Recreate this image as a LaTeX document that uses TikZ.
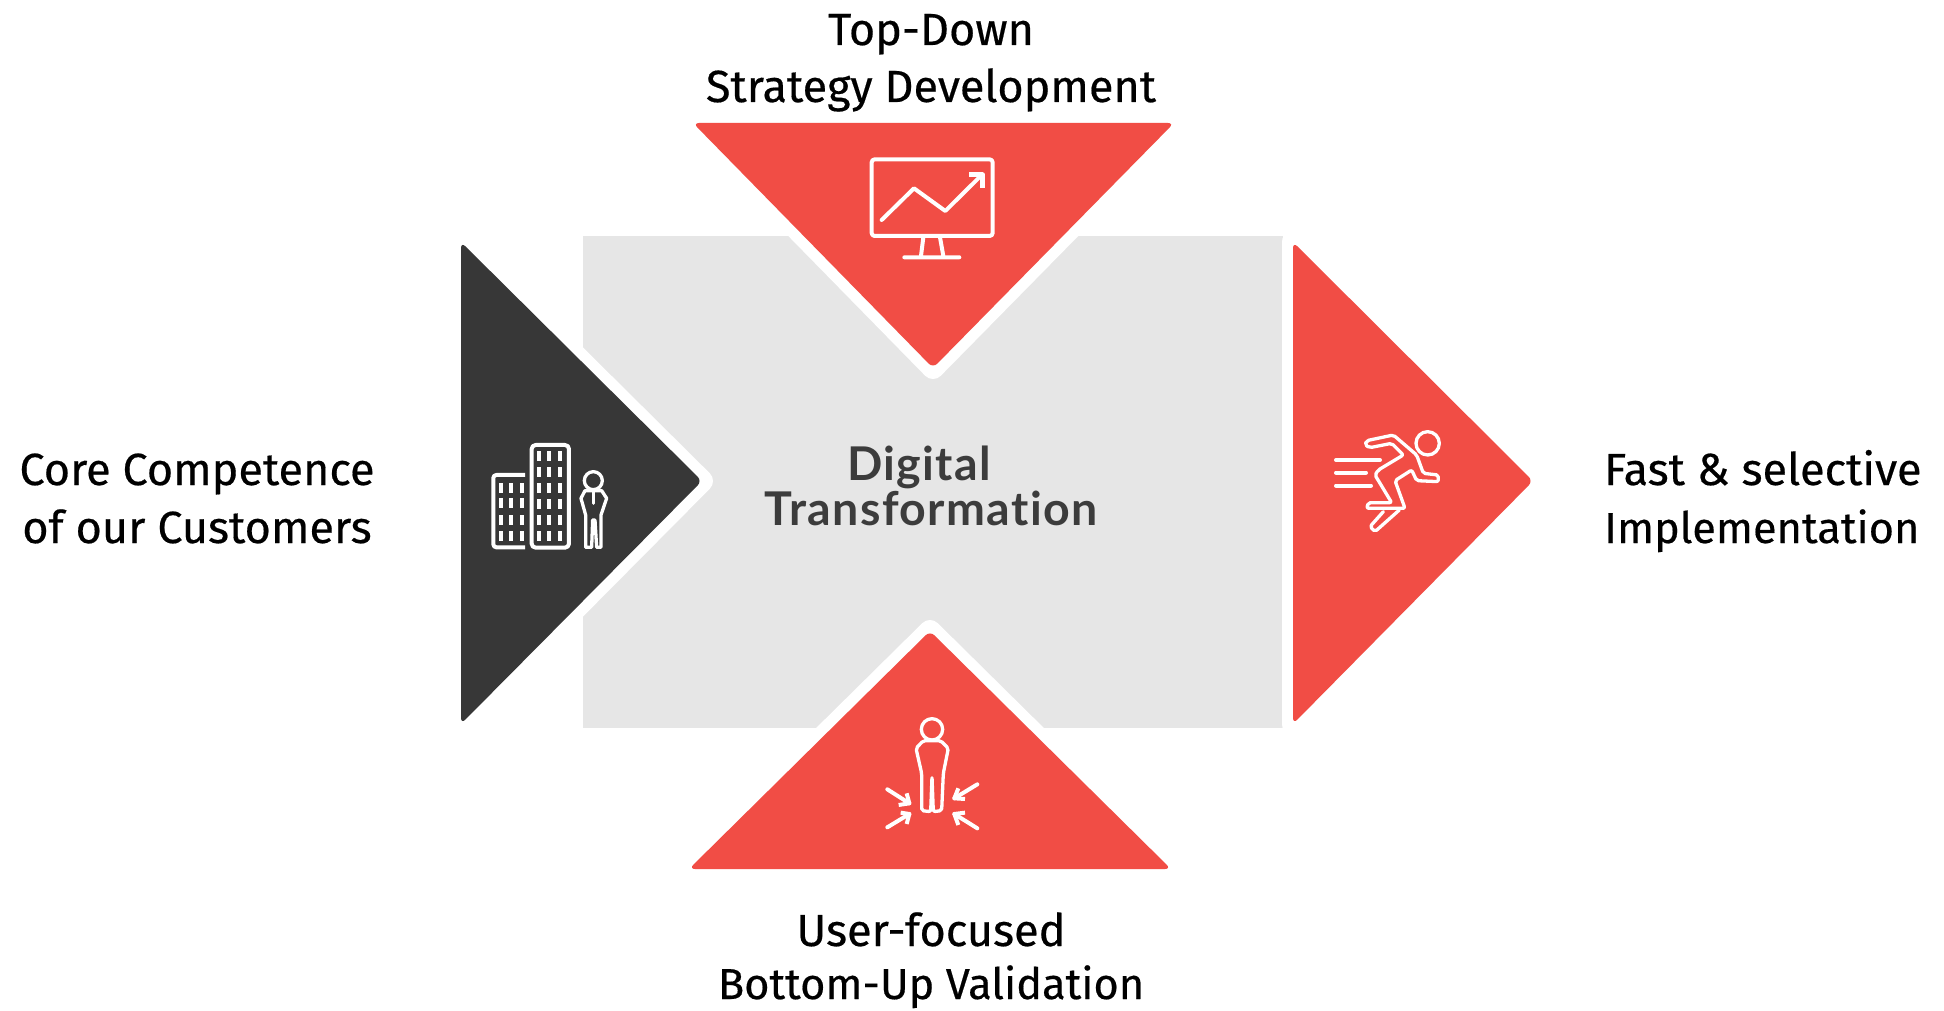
\documentclass[tikz,border=0pt]{standalone}
\usepackage{fontspec}
\setmainfont[FakeBold=0.4]{Fira Sans}
\newfontfamily\boldlabel[LetterSpace=3,Ligatures=NoCommon]{Lato}
\definecolor{redtri}{HTML}{F14D45}
\definecolor{darktri}{HTML}{373737}
\definecolor{panel}{HTML}{E6E6E6}
\definecolor{inktext}{HTML}{3C3C3C}
\tikzset{
  halo/.style={draw=white,line width=22pt,line join=round,fill=white},
  tri/.style={rounded corners=6pt},
  iconline/.style={draw=white,line width=4pt,line join=round,line cap=round},
  iconthin/.style={draw=white,line width=3.3pt,line join=round,line cap=round},
  label/.style={font=\fontsize{45}{52}\selectfont,text=black,inner sep=0pt,anchor=base},
  labelsmall/.style={label,font=\fontsize{43.3}{52}\selectfont},
  centertitle/.style={font=\boldlabel\bfseries\fontsize{46.5}{52}\selectfont,text=inktext,inner sep=0pt,anchor=base},
  zoomed/.style={x=0.3333pt,y=-0.3333pt,shift={(#1)}}
}
\begin{document}
\begin{tikzpicture}[x=1pt,y=-1pt]
\useasboundingbox (0,0) rectangle (1944,1011);
\fill[panel] (583,236) rectangle (1283,728);
% halos
\draw[halo] (693,123) -- (1174,123) -- (933,368) -- cycle;
\draw[halo] (461,242) -- (702,481) -- (461,724) -- cycle;
\draw[halo] (1293,242) -- (1533,481) -- (1293,724) -- cycle;
\draw[halo] (689,869) -- (930,631) -- (1171,869) -- cycle;
% triangles
\fill[redtri,tri] (693,123) -- (1174,123) -- (933,368) -- cycle;
\fill[darktri,tri] (461,242) -- (702,481) -- (461,724) -- cycle;
\fill[redtri,tri] (1293,242) -- (1533,481) -- (1293,724) -- cycle;
\fill[redtri,tri] (689,869) -- (930,631) -- (1171,869) -- cycle;
% monitor icon
\begin{scope}[zoomed={840pt,-130pt}]
\draw[iconline,rounded corners=3pt] (95,88) rectangle (458,318);
\draw[iconline] (125,270) -- (222,175) -- (316,243) -- (420,140);
\draw[iconline,line cap=butt,line width=5pt] (388,135) -- (428,135) -- (428,175);
\draw[iconline] (250,322) -- (243,378) (300,322) -- (310,378) (193,382) -- (358,382);
\end{scope}
% buildings icon
\begin{scope}[zoomed={470pt,-420pt}]
\draw[iconline,rounded corners=3pt,line cap=butt] (165,165) -- (70,165) -- (70,382) -- (165,382);
\draw[iconline,rounded corners=4pt] (185,75) rectangle (297,383);
\foreach \wx in {207,238,270} \foreach \wy in {107,155,205,253,300,348}
  \fill[white] (\wx-6,\wy-15) rectangle (\wx+6,\wy+15);
\foreach \wx in {93,124,155} \foreach \wy in {205,250,300,348}
  \fill[white] (\wx-6,\wy-15) rectangle (\wx+6,\wy+15);
\draw[iconthin] (370,182) circle (27);
\draw[iconthin] (345,212) -- (333,235) -- (347,285) -- (347,382) -- (365,382) -- (368,300) -- (375,300) -- (380,382) -- (393,382) -- (393,285) -- (410,235) -- (395,212) -- cycle;
\draw[iconthin] (370,212) -- (370,250);
\end{scope}
% runner icon
\begin{scope}[zoomed={1310pt,-410pt}]
\draw[iconthin] (353,100) circle (35);
\draw[iconline] (78,150) -- (210,150) (78,188) -- (168,188) (78,227) -- (183,227);
\draw[iconthin,rounded corners=2pt] (180,113) -- (245,100) -- (280,135) -- (205,180) -- (195,195) -- (245,278) -- (175,278) -- (170,295) -- (285,295) -- (255,212) -- (305,180) -- (320,212) -- (385,215) -- (385,195) -- (340,190) -- (320,135) -- (250,75) -- (170,92) -- (165,105) -- cycle;
\draw[iconthin,rounded corners=2pt] (220,305) -- (180,350) -- (195,365) -- (268,300);
\end{scope}
% person icon
\begin{scope}[zoomed={860pt,-700pt}]
\draw[iconthin] (216,88) circle (32);
\draw[iconthin,rounded corners=2pt] (190,122) -- (168,145) -- (185,220) -- (185,332) -- (212,335) -- (216,230) -- (220,335) -- (245,332) -- (250,220) -- (265,145) -- (242,122) -- cycle;
\draw[iconline] (82,268) -- (148,310) (82,382) -- (148,342) (352,253) -- (283,295) (352,385) -- (283,342);
\draw[iconline,line cap=butt] (116,315) -- (148,310) -- (140,280);
\draw[iconline,line cap=butt] (122,338) -- (148,342) -- (140,372);
\draw[iconline,line cap=butt] (315,297) -- (283,295) -- (295,265);
\draw[iconline,line cap=butt] (315,338) -- (283,342) -- (295,375);
\end{scope}
% labels
\node[label] (top1) at (931,45) {Top-Down};
\node[label] (top2) at (931,102) {Strategy Development};
\node[label] (left1) at (197,485) {Core Competence};
\node[label] (left2) at (197,543) {of our Customers};
\node[label,anchor=base west] (right1) at (1604,485) {Fast \& selective};
\node[labelsmall,anchor=base west] (right2) at (1604,543) {Implementation};
\node[label] (bot1) at (931,946) {User-focused};
\node[labelsmall] (bot2) at (931,999) {Bottom-Up Validation};
\node[centertitle] (c1) at (919,480) {Digital};
\node[centertitle] (c2) at (931,525) {Transformation};
\end{tikzpicture}
\end{document}
